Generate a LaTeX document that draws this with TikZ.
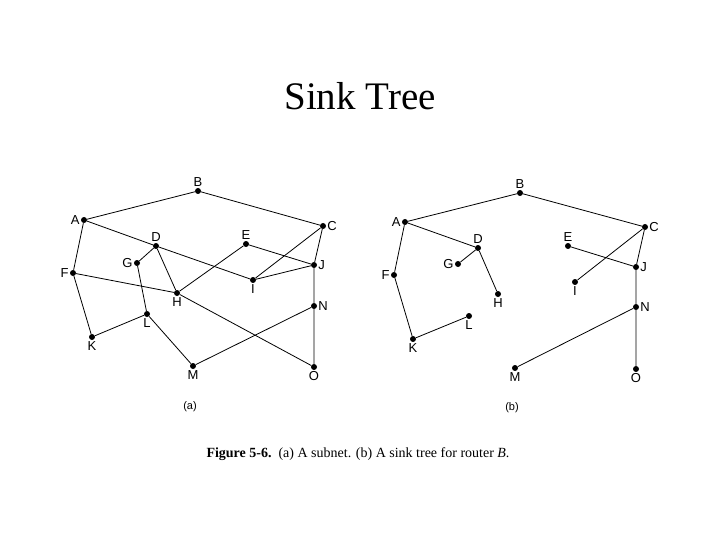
\documentclass[tikz,border=0pt]{standalone}
\usepackage{fontspec}
\setmainfont{Liberation Serif}
\setsansfont{Liberation Sans}

\begin{document}
\begin{tikzpicture}[x=1pt,y=-1pt,
  router/.style={circle,fill,inner sep=0pt,minimum size=6pt},
  every label/.style={font=\sffamily\fontsize{13}{15}\selectfont,inner sep=0.5pt},
  label distance=0.5pt,
  link/.style={line width=0.8pt}]
\useasboundingbox (0,0) rectangle (720,540);
%
% Title
\node (title) at (360,96) {\fontsize{39}{44}\selectfont Sink Tree};

%
% (a) subnet
\node[router,label=above:B] (subB) at (198,191) {};
\node[router,label=left:A] (subA) at (84,220) {};
\node[router,label=right:C] (subC) at (323,226) {};
\node[router,label=above:D] (subD) at (156,246) {};
\node[router,label=above:E] (subE) at (246,244) {};
\node[router,label=left:G] (subG) at (137,263) {};
\node[router,label=left:F] (subF) at (73,273) {};
\node[router,label=right:J] (subJ) at (314,265) {};
\node[router,label=below:I] (subI) at (253,280) {};
\node[router,label=below:H] (subH) at (177,293) {};
\node[router,label=right:N] (subN) at (314,306) {};
\node[router,label=below:L] (subL) at (147,314) {};
\node[router,label=below:K] (subK) at (92,337) {};
\node[router,label=below:M] (subM) at (193,366) {};
\node[router,label=below:O] (subO) at (314,367) {};
\draw[link] (subA) -- (subB) -- (subC);
\draw[link] (subA) -- (subD) -- (subI);
\draw[link] (subA) -- (subF) -- (subK) -- (subL) -- (subM) -- (subN);
\draw[link] (subD) -- (subG) -- (subL);
\draw[link] (subD) -- (subH) -- (subE) -- (subJ);
\draw[link] (subF) -- (subH) -- (subO);
\draw[link] (subC) -- (subI) -- (subJ);
\draw[link] (subC) -- (subJ) -- (subN) -- (subO);
\node[font=\sffamily\fontsize{11}{13}\selectfont] (capa) at (190,407) {(a)};

%
% (b) sink tree for B
\node[router,label=above:B] (treeB) at (520,193) {};
\node[router,label=left:A] (treeA) at (405,222) {};
\node[router,label=right:C] (treeC) at (645,227) {};
\node[router,label=above:D] (treeD) at (478,248) {};
\node[router,label=above:E] (treeE) at (568,246) {};
\node[router,label=left:G] (treeG) at (458,264) {};
\node[router,label=left:F] (treeF) at (394,275) {};
\node[router,label=right:J] (treeJ) at (636,267) {};
\node[router,label=below:I] (treeI) at (575,282) {};
\node[router,label=below:H] (treeH) at (498,294) {};
\node[router,label=right:N] (treeN) at (636,307) {};
\node[router,label=below:L] (treeL) at (469,316) {};
\node[router,label=below:K] (treeK) at (413,339) {};
\node[router,label=below:M] (treeM) at (515,368) {};
\node[router,label=below:O] (treeO) at (636,369) {};
\draw[link] (treeA) -- (treeB) -- (treeC);
\draw[link] (treeA) -- (treeD) -- (treeG);
\draw[link] (treeD) -- (treeH);
\draw[link] (treeA) -- (treeF) -- (treeK) -- (treeL);
\draw[link] (treeC) -- (treeI);
\draw[link] (treeC) -- (treeJ) -- (treeN) -- (treeO);
\draw[link] (treeE) -- (treeJ);
\draw[link] (treeN) -- (treeM);
\node[font=\sffamily\fontsize{11}{13}\selectfont] (capb) at (512,408) {(b)};

% caption
\node (caption) at (358,454) {\fontsize{14}{17}\selectfont\textbf{Figure 5-6.}\ \ (a) A subnet. (b) A sink tree for router \textit{B}.};
\end{tikzpicture}
\end{document}
